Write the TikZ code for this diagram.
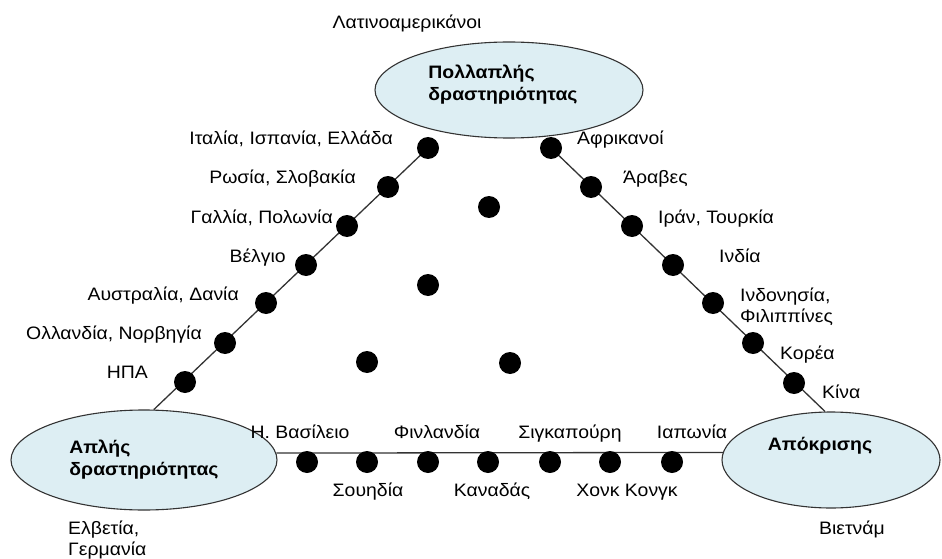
\documentclass[tikz,border=0pt]{standalone}
\usepackage{fontspec}
\setmainfont{Liberation Sans}[FakeStretch=1.08]
\usetikzlibrary{shapes.geometric}
\usepackage{xcolor}
\definecolor{bubblefill}{RGB}{221,238,243}

\begin{document}
\begin{tikzpicture}[
  x=1pt, y=-1pt,
  font=\fontsize{18}{21}\selectfont,
  bubble/.style={ellipse, draw=black!80, line width=1.1pt, fill=bubblefill, inner sep=0pt, align=left, font=\fontsize{18}{22}\selectfont\bfseries},
  bubbletext/.style={inner sep=0pt, align=left, font=\fontsize{18}{22}\selectfont\bfseries},
  dot/.style={circle, fill=black, inner sep=0pt, minimum size=22pt},
  link/.style={draw=black!80, line width=1.3pt},
  lbl/.style={inner sep=0pt, align=left, text height=13pt, text depth=2pt}
]
\useasboundingbox (0,0) rectangle (942,559);

% the three poles
\node[bubble, minimum width=268pt, minimum height=96pt] (multi) at (509,90) {};
\node[bubbletext] (multitext) at (503,85) {Πολλαπλής\\δραστηριότητας};
\node[bubble, minimum width=266pt, minimum height=100pt] (simple) at (144,460) {Απλής\\δραστηριότητας};
\node[bubble, minimum width=218pt, minimum height=96pt] (resp) at (831,460) {};
\node[bubbletext] (resptext) at (820,446) {Απόκρισης};

% sides of the triangle
\coordinate (ltop) at (428,148);
\coordinate (rtop) at (551,148);
\draw[link] (ltop) -- (simple.79);
\draw[link] (rtop) -- (resp.97);
\draw[link] (simple.3.5) -- (resp.176);

% left side
\node[dot] (l1) at (428,148) {};
\node[dot] (l2) at (388,187) {};
\node[dot] (l3) at (347,226) {};
\node[dot] (l4) at (306,265) {};
\node[dot] (l5) at (266,303) {};
\node[dot] (l6) at (225,343) {};
\node[dot] (l7) at (185,382) {};

% right side
\node[dot] (r1) at (551,148) {};
\node[dot] (r2) at (591,187) {};
\node[dot] (r3) at (632,226) {};
\node[dot] (r4) at (673,265) {};
\node[dot] (r5) at (713,303) {};
\node[dot] (r6) at (753,343) {};
\node[dot] (r7) at (794,383) {};

% base
\node[dot] (b1) at (307,462) {};
\node[dot] (b2) at (367,462) {};
\node[dot] (b3) at (428,462) {};
\node[dot] (b4) at (488,462) {};
\node[dot] (b5) at (550,462) {};
\node[dot] (b6) at (610,462) {};
\node[dot] (b7) at (672,462) {};

% inside
\node[dot] (m1) at (489,207) {};
\node[dot] (m2) at (428,285) {};
\node[dot] (m3) at (367,362) {};
\node[dot] (m4) at (510,363) {};

% labels
\node[lbl] (latam) at (407,23) {Λατινοαμερικάνοι};

\node[lbl, anchor=east] (italy) at (393,139) {Ιταλία, Ισπανία, Ελλάδα};
\node[lbl, anchor=east] (russia) at (356,178) {Ρωσία, Σλοβακία};
\node[lbl, anchor=east] (france) at (333,218) {Γαλλία, Πολωνία};
\node[lbl, anchor=east] (belgium) at (286,257) {Βέλγιο};
\node[lbl, anchor=east] (austr) at (239,295) {Αυστραλία, Δανία};
\node[lbl, anchor=east] (holl) at (202,334) {Ολλανδία, Νορβηγία};
\node[lbl, anchor=east] (usa) at (148,373) {ΗΠΑ};

\node[lbl, anchor=west] (afr) at (577,139) {Αφρικανοί};
\node[lbl, anchor=west] (arab) at (623,178) {Άραβες};
\node[lbl, anchor=west] (iran) at (658,218) {Ιράν, Τουρκία};
\node[lbl, anchor=west] (india) at (719,257) {Ινδία};
\node[lbl, anchor=west] (indon) at (740,317) {Ινδονησία,\\Φιλιππίνες};
\node[lbl, anchor=west] (korea) at (780,354) {Κορέα};
\node[lbl, anchor=west] (china) at (822,393) {Κίνα};

\node[lbl] (uk) at (300,433) {Η. Βασίλειο};
\node[lbl] (finl) at (437,433) {Φινλανδία};
\node[lbl] (sing) at (570,433) {Σιγκαπούρη};
\node[lbl] (japan) at (692,433) {Ιαπωνία};
\node[lbl] (swed) at (368,491) {Σουηδία};
\node[lbl] (canada) at (492,491) {Καναδάς};
\node[lbl] (hk) at (627,491) {Χονκ Κονγκ};

\node[lbl, anchor=west] (swiss) at (68,550) {Ελβετία,\\Γερμανία};
\node[lbl] (viet) at (852,529) {Βιετνάμ};
\end{tikzpicture}
\end{document}
